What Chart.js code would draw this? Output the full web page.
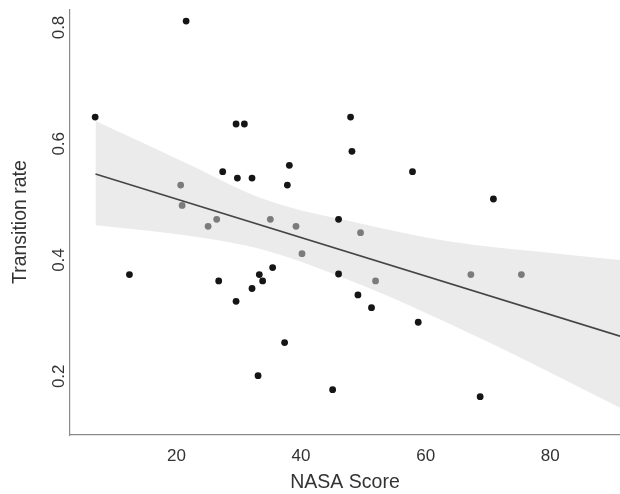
<!DOCTYPE html>
<html>
<head>
<meta charset="utf-8">
<script src="https://cdn.jsdelivr.net/npm/chart.js@4"></script>
<style>
  html, body { margin: 0; padding: 0; background: #fff; }
  #wrap { width: 620px; height: 494px; }
</style>
</head>
<body>
<div id="wrap"><canvas id="chart" width="620" height="494"></canvas></div>
<script>
// points (NASA score, transition rate)
const blackX = [6.95, 21.55, 29.57, 30.90, 27.42, 29.78, 32.13, 47.95, 48.17, 38.12, 37.80, 57.89, 46.02, 70.88,
                12.45, 26.78, 32.13, 33.30, 29.57, 33.10, 35.44, 33.83, 46.02, 49.13, 51.31, 58.81, 37.36, 45.07, 68.75];
const blackY = [0.646, 0.811, 0.634, 0.634, 0.552, 0.541, 0.541, 0.646, 0.587, 0.563, 0.529, 0.552, 0.470, 0.505,
                0.375, 0.364, 0.351, 0.375, 0.329, 0.201, 0.387, 0.364, 0.376, 0.340, 0.318, 0.293, 0.258, 0.177, 0.165];
const greyX = [20.68, 20.91, 26.46, 25.08, 35.07, 39.19, 49.55, 40.15, 51.96, 67.26, 75.37];
const greyY = [0.529, 0.494, 0.470, 0.458, 0.470, 0.458, 0.447, 0.411, 0.364, 0.375, 0.375];

// fitted line and its confidence band
const fitX = [7.0, 91.2];
const fitY = [0.548, 0.269];
const bandX = [7.0, 21.1, 34.2, 49.5, 63.9, 77.5, 91.2];
const bandUpper = [0.639, 0.569, 0.504, 0.463, 0.432, 0.415, 0.400];
const bandLower = [0.460, 0.443, 0.417, 0.358, 0.290, 0.220, 0.146];

const xTicks = [20, 40, 60, 80];
const yTicks = [0.2, 0.4, 0.6, 0.8];

function pts(xs, ys) {
    return xs.map((x, i) => ({ x: x, y: ys[i] }));
}

const font = "'Liberation Sans', Arial, sans-serif";

new Chart(document.getElementById('chart'), {
    type: 'scatter',
    data: {
        datasets: [
            {
                data: pts(bandX, bandUpper),
                showLine: true, pointRadius: 0, borderWidth: 0,
                cubicInterpolationMode: 'monotone',
                backgroundColor: '#ebebeb', fill: '+1', order: 5
            },
            {
                data: pts(bandX, bandLower),
                showLine: true, pointRadius: 0, borderWidth: 0,
                cubicInterpolationMode: 'monotone', order: 5
            },
            {
                data: pts(fitX, fitY),
                showLine: true, pointRadius: 0, borderWidth: 1.6,
                borderColor: '#454545', order: 3
            },
            {
                data: pts(greyX, greyY),
                pointRadius: 3.4, backgroundColor: '#7b7b7b', borderWidth: 0, order: 1
            },
            {
                data: pts(blackX, blackY),
                pointRadius: 3.4, backgroundColor: '#151515', borderWidth: 0, order: 1
            }
        ]
    },
    options: {
        responsive: false,
        animation: false,
        layout: { autoPadding: false, padding: { top: 5, right: 0, left: 0, bottom: 0 } },
        plugins: { legend: { display: false }, tooltip: { enabled: false } },
        scales: {
            x: {
                type: 'linear', min: 2.91, max: 91.2,
                afterFit: s => { s.height = 59; },
                afterBuildTicks: s => { s.ticks = xTicks.map(v => ({ value: v })); },
                grid: { display: false, drawTicks: false },
                border: { display: true, color: '#8a8a8a', width: 1.2 },
                ticks: { color: '#333', font: { family: font, size: 17 }, padding: 11 },
                title: { display: true, text: 'NASA Score', color: '#333',
                         font: { family: font, size: 19.5 }, padding: { top: 0, bottom: 0 } }
            },
            y: {
                type: 'linear', min: 0.099, max: 0.8315,
                afterFit: s => { s.width = 70; },
                afterBuildTicks: s => { s.ticks = yTicks.map(v => ({ value: v })); },
                grid: { display: false, drawTicks: false },
                border: { display: true, color: '#8a8a8a', width: 1.2 },
                ticks: { color: '#333', font: { family: font, size: 17 }, padding: -1,
                         minRotation: 90, maxRotation: 90, crossAlign: 'center',
                         callback: v => v.toFixed(1) },
                title: { display: true, text: 'Transition rate', color: '#333',
                         font: { family: font, size: 19.5 }, padding: { top: 9, bottom: 0 } }
            }
        }
    }
});
</script>
</body>
</html>
